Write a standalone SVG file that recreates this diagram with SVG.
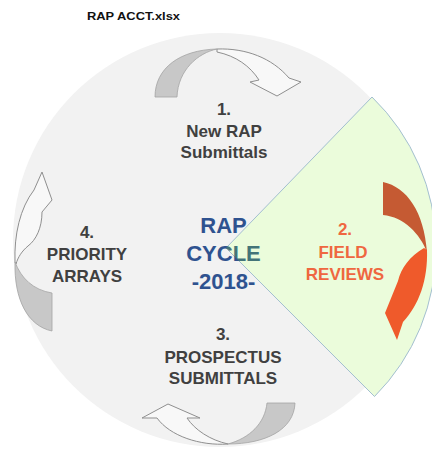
<svg xmlns="http://www.w3.org/2000/svg" width="432" height="453" viewBox="0 0 432 453">
  <style>
    .lbl { font-family: "Liberation Sans", Arial, sans-serif; font-weight: bold; font-size: 17px; fill: #404040; text-anchor: middle; }
    .orange { fill: #ef6740; }
    .center { font-family: "Liberation Sans", Arial, sans-serif; font-weight: bold; font-size: 22px; text-anchor: middle; fill: url(#ctext); }
    .hdr { font-family: "Liberation Sans", Arial, sans-serif; font-weight: bold; font-size: 11px; fill: #111; }
    .agrey { fill: #c8c8c8; stroke: #a3a3a3; stroke-width: 0.8; stroke-linejoin: round; }
    .awhite { fill: #f8f8f8; stroke: #8f8f8f; stroke-width: 1; stroke-linejoin: round; }
  </style>
  <defs>
    <pattern id="ctext" patternUnits="userSpaceOnUse" x="0" y="0" width="432" height="453">
      <rect width="432" height="453" fill="#2f528f"/>
      <path d="M226,248 L372,97 A210,210 0 0 1 374.5,396.5 Z" fill="#437478"/>
    </pattern>
  </defs>
  <rect width="432" height="453" fill="#ffffff"/>

  <g id="header">
    <text class="hdr" x="87" y="20" textLength="93" lengthAdjust="spacingAndGlyphs">RAP ACCT.xlsx</text>
  </g>

  <g id="cycle-background">
    <circle cx="220" cy="240" r="207" fill="#f2f2f2"/>
  </g>

  <g id="field-wedge">
    <path d="M226,248 L372,97 A210,210 0 0 1 374.5,396.5 Z" fill="#ebfcdb" stroke="#a3bfd0" stroke-width="1"/>
  </g>

  <g id="connectors">
    <g id="arrow-1">
      <path class="awhite" d="M217,49 C246,48 272,58 289,78 L301,82 L277,96 L250,82 L259,80 C250,66 236,56 217,52 Z"/>
      <path class="agrey" d="M155,97 C155,68 180,50 217,49 C198,53 178,70 177,97 Z"/>
    </g>
    <g id="arrow-2">
      <path d="M383,182 C407,187 424,212 427,252 C420,234 404,217 383,215 Z" fill="#c55a33"/>
      <path d="M427,250 C428,280 419,305 403,322 L397,340 L385,313 L398,281 C401,268 410,256 424,248 Z" fill="#ef5a2b"/>
    </g>
    <g id="arrow-3">
      <path class="awhite" d="M228,444 C200,446 170,436 157,418 L142,418 L168,404 L200,418 L187,418 C195,430 210,440 228,444 Z"/>
      <path class="agrey" d="M295,403 C294,430 265,444 228,444 C250,438 265,423 267,403 Z"/>
    </g>
    <g id="arrow-4">
      <path class="awhite" d="M15,262 C14,235 20,208 34,190 L42,172 L52,200 L42,212 C42,228 36,240 28,246 C22,251 18,257 16,264 Z"/>
      <path class="agrey" d="M52,331 C28,326 14,300 15,262 C21,278 33,290 52,293 Z"/>
    </g>
  </g>

  <g id="center-label">
    <text class="center" x="223.5" y="233">RAP</text>
    <text class="center" x="223.5" y="261">CYCLE</text>
    <text class="center" x="223.5" y="289">-2018-</text>
  </g>

  <g id="node-1">
    <text class="lbl" x="224" y="115">1.</text>
    <text class="lbl" x="224" y="137">New RAP</text>
    <text class="lbl" x="224" y="158">Submittals</text>
  </g>

  <g id="node-2">
    <text class="lbl orange" x="345" y="235">2.</text>
    <text class="lbl orange" x="343" y="258">FIELD</text>
    <text class="lbl orange" x="345" y="280">REVIEWS</text>
  </g>

  <g id="node-3">
    <text class="lbl" x="223" y="340">3.</text>
    <text class="lbl" x="223" y="363">PROSPECTUS</text>
    <text class="lbl" x="223" y="384">SUBMITTALS</text>
  </g>

  <g id="node-4">
    <text class="lbl" x="87" y="238">4.</text>
    <text class="lbl" x="87" y="260">PRIORITY</text>
    <text class="lbl" x="87" y="282">ARRAYS</text>
  </g>
</svg>
